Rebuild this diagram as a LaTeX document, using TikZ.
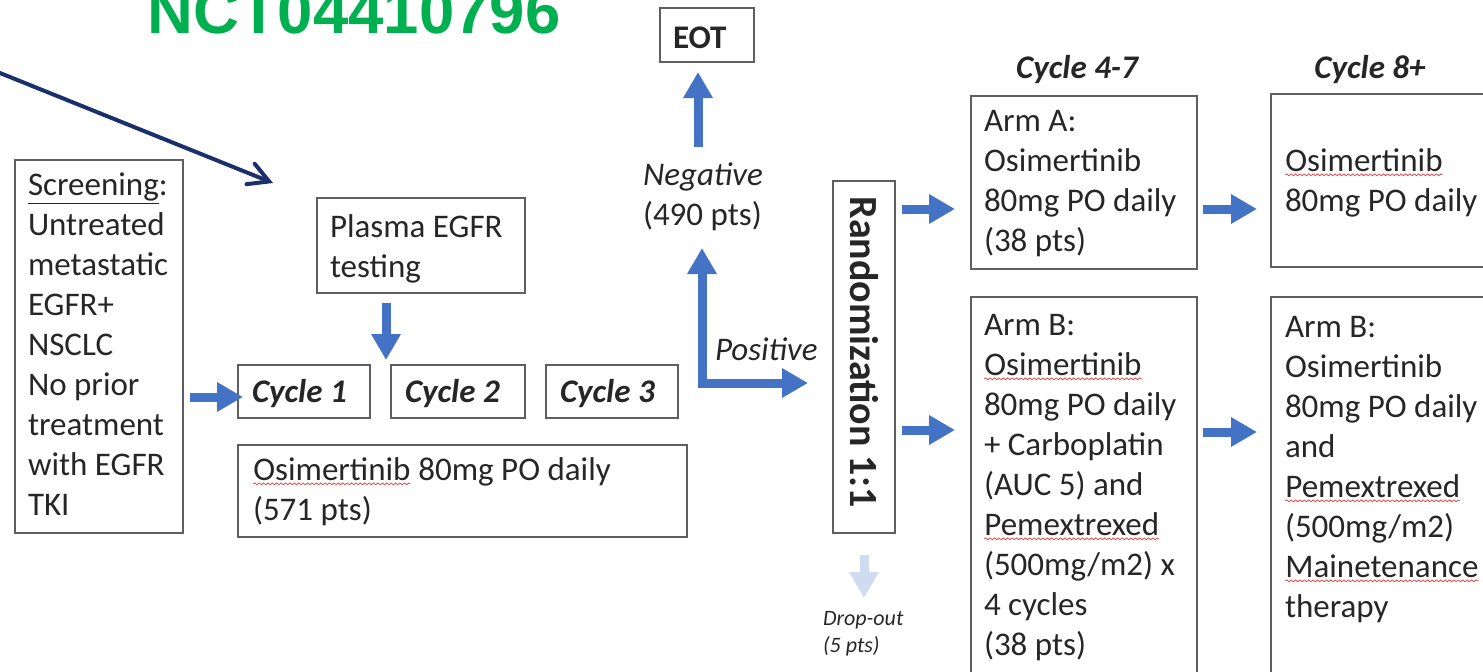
\documentclass[tikz,border=0pt]{standalone}
\usepackage{fontspec}
\setmainfont{Carlito}
\newfontfamily\titlefont{Liberation Sans}
\usetikzlibrary{arrows.meta,calc,fit,decorations.pathmorphing}

\definecolor{arrowblue}{HTML}{4472C4}
\definecolor{paleblue}{HTML}{CFDBF0}
\definecolor{navy}{HTML}{1B2F6B}
\definecolor{titlegreen}{HTML}{00B050}
\definecolor{boxgray}{HTML}{5F5F5F}
\definecolor{ink}{HTML}{262626}
\definecolor{spellred}{HTML}{E23B3B}

% word with a red wavy underline
\newcommand\spellmark[1]{\tikz[baseline=(sw.base)]{\node[inner sep=0pt,outer sep=0pt,anchor=base west,rotate=0] (sw) at (0,0) {#1};
  \draw[spellred,line width=0.35pt,decorate,decoration={snake,amplitude=0.45pt,segment length=2.2pt}]
    ([yshift=-1.9pt]sw.base west) -- ([yshift=-1.9pt]sw.base east);}}

\begin{document}
\begin{tikzpicture}[x=0.5pt,y=-0.5pt,
  box/.style={draw=boxgray,line width=1pt,inner sep=0pt,outer sep=0pt},
  % multi-line texts are placed by the baseline of their last line
  txt/.style={inner sep=0pt,outer sep=0pt,anchor=base west,align=left,text=ink,
    font=\fontsize{16.5}{20}\selectfont},
  cyc/.style={txt,font=\fontsize{16.5}{20}\selectfont\bfseries\itshape},
  note/.style={txt,font=\fontsize{16.5}{20}\selectfont\itshape},
  blk/.style={arrowblue,line width=4.5pt,-{Triangle[length=13pt,width=14pt]}},
  pale/.style={blk,paleblue},
  pointer/.style={navy,line width=2pt,line cap=round,
    -{Straight Barb[length=10pt,width=11pt,line cap=round]}}]

\path[use as bounding box] (0,0) rectangle (1483,671);
\clip (0,0) rectangle (1483,671);

% trial identifier
\node[anchor=base west,inner sep=0pt,text=titlegreen,
  font=\titlefont\bfseries\fontsize{31.75}{36}\selectfont] (title) at (147,33) {NCT04410796};
\coordinate (ptrStart) at (0,73);
\coordinate (ptrEnd) at (273,183);
\draw[pointer] (ptrStart) -- (ptrEnd);

% boxes
\node[box,fit={(15,160)(183,533)}] (scr) {};
\node[box,fit={(317,198)(525,293)}] (plasma) {};
\node[box,fit={(238,365)(370,418)}] (c1) {};
\node[box,fit={(391,365)(525,418)}] (c2) {};
\node[box,fit={(546,365)(678,418)}] (c3) {};
\node[box,fit={(238,445)(687,537)}] (osi) {};
\node[box,fit={(660,8)(754,62)}] (eot) {};
\node[box,fit={(833,181)(895,533)}] (rand) {};
\node[box,fit={(971,96)(1197,269)}] (armA) {};
\node[box,fit={(1271,94)(1520,267)}] (contA) {};
\node[box,fit={(971,297)(1197,700)}] (armB) {};
\node[box,fit={(1271,297)(1520,700)}] (contB) {};

% box texts
\node[txt] (scrT) at (28,515) {\underline{Screening}:\\Untreated\\metastatic\\EGFR+\\NSCLC\\No prior\\treatment\\with EGFR\\TKI};
\node[txt] (plasmaT) at (330,277) {Plasma EGFR\\testing};
\node[cyc] (c1T) at (252,402) {Cycle 1};
\node[cyc] (c2T) at (405,402) {Cycle 2};
\node[cyc] (c3T) at (560,402) {Cycle 3};
\node[txt] (osiT) at (253,520) {\spellmark{Osimertinib} 80mg PO daily\\(571 pts)};
\node[txt,font=\fontsize{16.5}{20}\selectfont\bfseries] (eotT) at (673,48) {EOT};
\node[inner sep=0pt,rotate=-90,text=ink,font=\fontsize{20}{24}\selectfont\bfseries] (randT) at (864,352) {Randomization 1:1};
\node[cyc,anchor=base] (hdA) at (1077,78) {Cycle 4-7};
\node[cyc,anchor=base] (hdB) at (1370,78) {Cycle 8+};
\node[txt] (armAT) at (984,251) {Arm A:\\Osimertinib\\80mg PO daily\\(38 pts)};
\node[txt] (contAT) at (1285,211) {\spellmark{Osimertinib}\\80mg PO daily};
\node[txt] (armBT) at (984,655) {Arm B:\\\spellmark{Osimertinib}\\80mg PO daily\\+ Carboplatin\\(AUC 5) and\\\spellmark{Pemextrexed}\\(500mg/m2) x\\4 cycles\\(38 pts)};
\node[txt] (contBT) at (1285,617) {Arm B:\\Osimertinib\\80mg PO daily\\and\\\spellmark{Pemextrexed}\\(500mg/m2)\\\spellmark{Mainetenance}\\therapy};

% branch labels
\node[note] (negT) at (643,225) {Negative\\\upshape(490 pts)};
\node[note] (posT) at (715,360) {Positive};
\node[txt,font=\fontsize{11}{13.5}\selectfont\itshape] (dropT) at (823,652) {Drop-out\\(5 pts)};

% flow arrows
\draw[blk] ($(scr.east)+(7,50.5)$) -- ($(c1.west)+(5,5.5)$);
\draw[blk] ($(plasma.south west)+(69,10)$) -- ($(c2.north west)+(-5,-5)$);
\draw[blk] ($(eot.south west)+(38,85)$) -- ($(eot.south west)+(38,10)$);
\coordinate (negTip) at (702,248);
\coordinate (posTip) at ($(rand.west)+(-25,26)$);
\draw[blk,line join=miter,{Triangle[length=13pt,width=14pt]}-{Triangle[length=13pt,width=14pt]}] (negTip) |- (posTip);
\draw[blk] ($(rand.north east)+(7,28)$) -- ($(armA.north west)+(-16,113)$);
\draw[blk] ($(rand.north east)+(7,249)$) -- ($(armB.north west)+(-16,133)$);
\draw[blk] ($(armA.north east)+(6,113)$) -- ($(contA.north west)+(-14,115)$);
\draw[blk] ($(armB.north east)+(6,135)$) -- ($(contB.north west)+(-14,135)$);
\draw[pale] ($(rand.south)+(0,22)$) -- ($(rand.south)+(0,65)$);

\end{tikzpicture}
\end{document}
